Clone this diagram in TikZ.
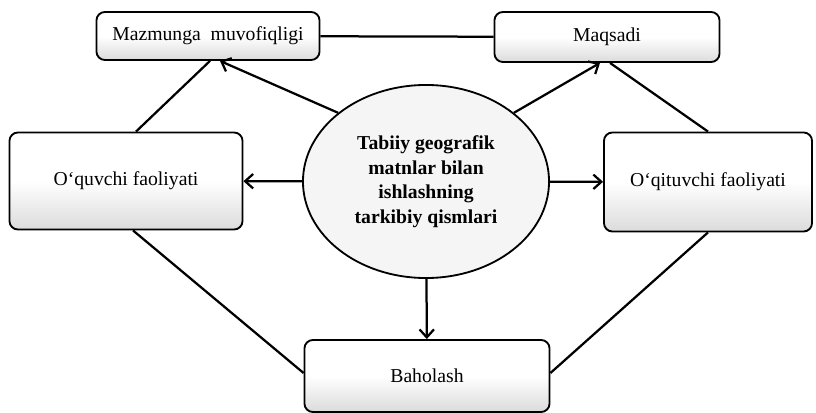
\documentclass[tikz,border=0pt]{standalone}
\usepackage{fontspec}
\setmainfont{Liberation Serif}
\usetikzlibrary{shapes.geometric,calc,arrows.meta}

\tikzset{
  qism/.style={draw, line width=1.3pt, rounded corners=6pt, inner sep=0pt,
    top color=white, bottom color=black!14, middle color=white},
  markaz/.style={draw, ellipse, line width=1.3pt, inner sep=0pt, fill=black!4,
    align=center, font=\bfseries}
}

\begin{document}
\begin{tikzpicture}[x=0.025cm, y=-0.025cm, line width=1.6pt,
    >={Straight Barb[length=2mm, width=3.6mm]}]
        \fontsize{14}{17.5}\selectfont
        \useasboundingbox (0,0) rectangle (816,413);
        \node[qism, minimum width=5.575cm, minimum height=1.2cm] (maz) at (208,36) {Mazmunga\ \ muvofiqligi};
        \node[qism, minimum width=5.625cm, minimum height=1.25cm] (maq) at (607,37) {Maqsadi};
        \node[qism, minimum width=5.825cm, minimum height=2.425cm] (quv) at (126,181) {O‘quvchi faoliyati};
        \node[qism, minimum width=5.2cm, minimum height=2.475cm] (qit) at (708,182) {O‘qituvchi faoliyati};
        \node[markaz, minimum width=6.15cm, minimum height=4.825cm] (tgm) at (426,181.5)
            {Tabiiy geografik\\matnlar bilan\\ishlashning\\tarkibiy qismlari};
        \node[qism, minimum width=6.125cm, minimum height=1.8cm] (bah) at (427,376) {Baholash};
        \draw (maz) -- (maq);
        \draw[->] (tgm.142) -- ($(maz.south)+(12,0)$);
        \draw ($(quv.north)+(10,0)$) -- ($(maz.south)+(2,0)$);
        \draw[->] (tgm.38) -- ($(maq.south)+(-7,0)$);
        \draw ($(maq.south)+(3,0)$) -- (qit.north);
        \draw[->] (tgm) -- (quv);
        \draw[->] (tgm) -- (qit);
        \draw[->] (tgm) -- (bah);
        \draw ($(quv.south)+(7,0)$) -- ($(bah.west)+(0,-3)$);
        \draw (qit.south) -- ($(bah.east)+(0,-3)$);
    \end{tikzpicture}
\end{document}
